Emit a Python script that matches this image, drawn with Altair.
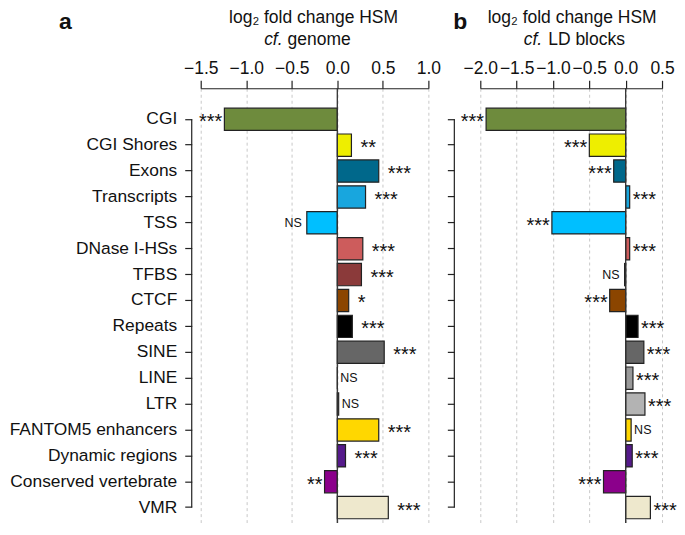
import altair as alt
import pandas as pd

categories = ["CGI", "CGI Shores", "Exons", "Transcripts", "TSS", "DNase I-HSs",
              "TFBS", "CTCF", "Repeats", "SINE", "LINE", "LTR",
              "FANTOM5 enhancers", "Dynamic regions", "Conserved vertebrate", "VMR"]
fc_genome = [-1.24, 0.155, 0.455, 0.31, -0.335, 0.28, 0.265, 0.125,
             0.165, 0.515, 0.0, 0.015, 0.455, 0.09, -0.14, 0.56]
sig_genome = ["***", "**", "***", "***", "NS", "***", "***", "*",
              "***", "***", "NS", "NS", "***", "***", "**", "***"]
fc_ld = [-1.92, -0.50, -0.165, 0.055, -1.015, 0.055, -0.015, -0.22,
         0.17, 0.25, 0.10, 0.265, 0.075, 0.09, -0.305, 0.34]
sig_ld = ["***", "***", "***", "***", "***", "***", "NS", "***",
          "***", "***", "***", "***", "NS", "***", "***", "***"]
bar_colors = ["#6e8b3d", "#eeee00", "#00688b", "#18a6de", "#00bfff", "#cd5c5c",
              "#8b3a3a", "#8b4500", "#000000", "#666666", "#999999", "#b3b3b3",
              "#ffd700", "#551a8b", "#8b008b", "#eee8cd"]
ticks_genome = [-1.5, -1.0, -0.5, 0.0, 0.5, 1.0]
ticks_ld = [-2.0, -1.5, -1.0, -0.5, 0.0, 0.5]

FONT = "Liberation Sans"
H = 447
DARK = "#222222"


def panel(values, sig, ticks, width, y_off, show_labels, letter, letter_x,
          t1_x, cf_x, rest_text, rest_x, pos_star_dx):
    df = pd.DataFrame({"cat": categories, "fc": values, "sig": sig, "color": bar_colors})
    base = alt.Chart(df)
    yscale = alt.Scale(domain=categories, paddingInner=0.14, paddingOuter=0.69, align=0.556)
    yaxis = alt.Axis(title=None, domain=False, offset=y_off, tickSize=7, tickColor=DARK,
                     tickWidth=1.2, labels=show_labels, labelFont=FONT, labelFontSize=17.4,
                     labelColor="#111111", labelPadding=8)
    xscale = alt.Scale(domain=[ticks[0], ticks[-1]], nice=False, zero=False)
    xaxis = alt.Axis(orient="top", values=ticks, format=".1f", title=None, grid=True,
                     gridDash=[3, 3], gridColor="#c8c8c8", gridWidth=1,
                     domainColor=DARK, domainWidth=1.2, tickColor=DARK, tickWidth=1.2,
                     tickSize=8, labelFont=FONT, labelFontSize=17.5, labelColor="#111111",
                     labelPadding=3, labelOverlap=False, labelFlush=False, labelBound=False)
    Y = lambda f: alt.Y(f, sort=categories, scale=yscale, axis=yaxis, title=None)
    X = lambda f: alt.X(f, scale=xscale, axis=xaxis, title=None)
    bars = base.mark_bar(stroke=DARK, strokeWidth=1.2).encode(
        y=Y("cat:N"),
        x=X("fc:Q"),
        x2=alt.datum(0),
        color=alt.Color("color:N", scale=None),
    )
    zero = alt.Chart(pd.DataFrame({"z": [0.0]})).mark_rule(color="#333333", strokeWidth=1.3).encode(
        x=X("z:Q"))
    yline = alt.Chart(pd.DataFrame({"a": [categories[0]], "b": [categories[-1]]})).mark_rule(
        color=DARK, strokeWidth=1.2).encode(
        y=Y("a:N"), y2="b:N", x=alt.value(-y_off))

    star = dict(baseline="middle", fontSize=20, font=FONT, color="#111111", dy=3)
    ns = dict(baseline="middle", fontSize=12.5, font=FONT, color="#111111")
    enc = dict(y=Y("cat:N"), x=X("fc:Q"), text="sig:N")
    s_pos = base.transform_filter("datum.fc >= 0 && datum.sig != 'NS'").mark_text(
        align="left", dx=pos_star_dx, **star).encode(**enc)
    s_neg = base.transform_filter("datum.fc < 0 && datum.sig != 'NS'").mark_text(
        align="right", dx=-2, **star).encode(**enc)
    n_pos = base.transform_filter("datum.fc >= 0 && datum.sig == 'NS'").mark_text(
        align="left", dx=3, **ns).encode(**enc)
    n_neg = base.transform_filter("datum.fc < 0 && datum.sig == 'NS'").mark_text(
        align="right", dx=-5, **ns).encode(**enc)

    one = alt.Chart(pd.DataFrame({"k": [0]}))
    lab = one.mark_text(text=letter, font=FONT, fontSize=23, fontWeight="bold",
                        align="left", baseline="alphabetic", color="#111111").encode(
        x=alt.value(letter_x), y=alt.value(-59))
    t1 = one.mark_text(text="log\u2082 fold change HSM", font=FONT, fontSize=17.5,
                       align="center", baseline="alphabetic", color="#111111").encode(
        x=alt.value(t1_x), y=alt.value(-65))
    t2a = one.mark_text(text="cf.", font=FONT, fontSize=17.5, fontStyle="italic",
                        align="right", baseline="alphabetic", color="#111111").encode(
        x=alt.value(cf_x), y=alt.value(-43))
    t2b = one.mark_text(text=rest_text, font=FONT, fontSize=17.5,
                        align="left", baseline="alphabetic", color="#111111").encode(
        x=alt.value(rest_x), y=alt.value(-43))

    return alt.layer(bars, zero, yline, s_pos, s_neg, n_pos, n_neg, lab, t1, t2a, t2b).properties(
        width=width, height=H)


pa = panel(fc_genome, sig_genome, ticks_genome, 228, 9, True, "a", -142,
           113, 82, "genome", 87, 9)
pb = panel(fc_ld, sig_ld, ticks_ld, 182, 26, False, "b", -27,
           92, 62, "LD blocks", 68, 3)

chart = alt.hconcat(pa, pb, spacing=52, bounds="flush").properties(
    padding={"left": 1, "top": 1, "right": 0, "bottom": -13}
).configure_view(stroke=None)

chart.save("out.html", embed_options={"renderer": "svg", "actions": False})
